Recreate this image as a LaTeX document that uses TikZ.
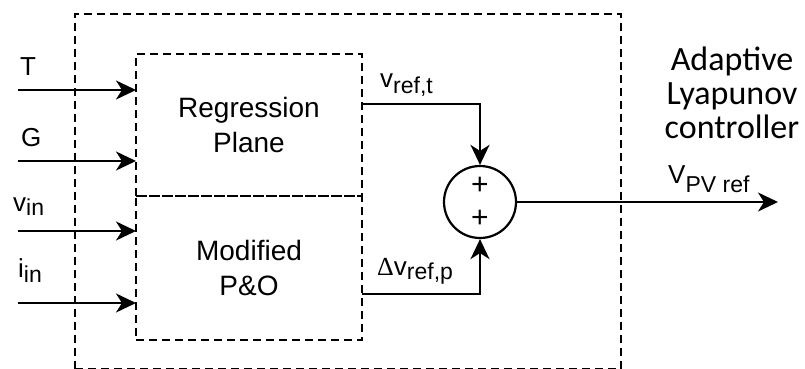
\documentclass[tikz,border=0pt]{standalone}
\usepackage{fontspec}
\setmainfont{Liberation Sans}
\newfontfamily\calib{Carlito}
\newfontfamily\serifd{Liberation Serif}
\usetikzlibrary{arrows.meta}
\newcommand{\lsub}[2][6pt]{\raisebox{-#1}{\fontsize{23}{23}\selectfont #2}}
\begin{document}
\begin{tikzpicture}[x=1pt,y=-1pt,
  arr/.style={line width=2.2pt,-{Stealth[length=20pt,width=19pt,inset=6pt]}},
  dbox/.style={draw,line width=2pt,dash pattern=on 8pt off 5pt,inner sep=0pt,outer sep=0pt},
  lbl/.style={inner sep=0pt,anchor=base west,font=\fontsize{26}{30}\selectfont},
  blocktext/.style={align=center,font=\fontsize{28}{35}\selectfont}]
\useasboundingbox (0,0) rectangle (805,369);
% outer dashed frame (its bottom edge runs along the lower border)
\node[dbox,minimum width=546pt,minimum height=355pt] (outer) at (348,191.5) {};
% blocks
\node[dbox,blocktext,minimum width=226pt,minimum height=142pt] (rp) at (249,125) {Regression\\Plane};
\node[dbox,blocktext,minimum width=226pt,minimum height=144pt] (mpo) at (249,268) {Modified\\P\&O};
% summing junction
\node[circle,draw,line width=2.2pt,minimum size=72pt,inner sep=0pt] (sum) at (480,202) {};
\node[inner sep=0pt,font=\fontsize{30}{30}\selectfont] (p1) at (480,186) {+};
\node[inner sep=0pt,font=\fontsize{30}{30}\selectfont] (p2) at (480,219) {+};
% inputs
\coordinate (inT) at (18,90);
\coordinate (inG) at (18,161);
\coordinate (inV) at (18,231);
\coordinate (inI) at (18,303);
\draw[arr] (inT) -- (inT -| rp.west);
\draw[arr] (inG) -- (inG -| rp.west);
\draw[arr] (inV) -- (inV -| mpo.west);
\draw[arr] (inI) -- (inI -| mpo.west);
% outputs of blocks to sum
\coordinate (o1) at (362,104);
\coordinate (o2) at (362,294);
\draw[arr] (o1) -| (sum.north);
\draw[arr] (o2) -| (sum.south);
% output
\coordinate (outend) at (778,202);
\draw[arr] (sum.east) -- (outend);
% labels
\node[lbl] (lT) at (20,75) {T};
\node[lbl] (lG) at (21,146) {G};
\node[lbl] (lv) at (13,211) {v\lsub[4pt]{in}};
\node[lbl] (li) at (18,277) {i\lsub[5pt]{in}};
\node[lbl] (lvt) at (380,87) {v\lsub{ref,t}};
\node[lbl] (ldv) at (377,275) {{\serifd Δ}v\lsub[4pt]{ref,p}};
\node[lbl] (lout) at (668,183) {V\lsub[9pt]{PV ref}};
\node[align=center,inner sep=0pt,font=\calib\fontsize{34}{34}\selectfont] (ctl) at (732,93) {Adaptive\\Lyapunov\\controller};
\end{tikzpicture}
\end{document}
